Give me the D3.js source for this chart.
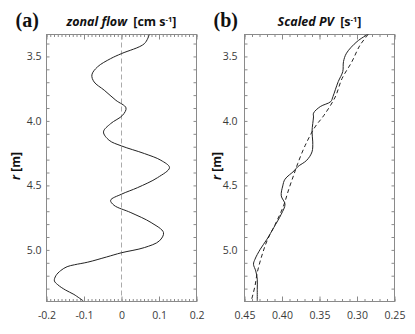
<!DOCTYPE html>
<html><head><meta charset="utf-8">
<script src="https://cdnjs.cloudflare.com/ajax/libs/d3/7.8.5/d3.min.js"></script>
<style>
html,body{margin:0;padding:0;background:#fff;}
svg{display:block;}
</style></head>
<body>
<svg id="chart" width="415" height="334"></svg>
<script>
// ---- data ----
const rFlow = [3.331,3.401,3.478,3.517,3.581,3.643,3.698,3.762,3.84,3.899,3.956,4.021,4.085,4.15,4.194,4.253,4.305,4.362,4.44,4.517,4.568,4.615,4.654,4.711,4.788,4.866,4.93,4.982,5.022,5.055,5.095,5.115,5.13,5.16,5.2,5.24,5.27,5.31,5.345,5.395];
const zonalFlow = [0.074,0.061,0,-0.029,-0.064,-0.079,-0.073,-0.046,-0.015,0.012,0.003,-0.029,-0.048,-0.033,0,0.061,0.105,0.128,0.096,0.043,0,-0.029,-0.02,0.025,0.079,0.112,0.101,0.061,0,-0.04,-0.09,-0.125,-0.145,-0.162,-0.175,-0.179,-0.17,-0.15,-0.127,-0.102];

const rPV = [3.33,3.385,3.475,3.54,3.618,3.695,3.81,3.85,3.889,3.94,3.969,4.021,4.085,4.163,4.24,4.305,4.355,4.388,4.452,4.504,4.581,4.646,4.723,4.827,4.917,4.995,5.072,5.111,5.163,5.227,5.305,5.395];
const scaledPV = [0.286,0.30,0.314,0.318,0.319,0.325,0.332,0.335,0.349,0.358,0.358,0.359,0.36,0.359,0.36,0.367,0.379,0.384,0.396,0.399,0.401,0.396,0.401,0.411,0.42,0.429,0.436,0.438,0.435,0.433,0.433,0.433];

const rPVfit = [3.33,3.413,3.543,3.672,3.814,3.956,4.047,4.189,4.33,4.413,4.53,4.659,4.801,4.93,5.047,5.176,5.279,5.395];
const scaledPVfit = [0.285,0.296,0.307,0.32,0.329,0.344,0.356,0.369,0.379,0.384,0.391,0.398,0.409,0.42,0.427,0.433,0.436,0.441];

const rTicks = [3.5,4.0,4.5,5.0];
const flowTicks = [-0.2,-0.1,0,0.1,0.2];
const pvTicks = [0.45,0.40,0.35,0.30,0.25];
const rDomain = [3.33,5.40];

// ---- layout ----
const svg = d3.select("#chart");
const yTop = 34.5, yBot = 301.5;
const frameCol = "#8a8a8a", labelCol = "#3a3a3a";
const y = d3.scaleLinear().domain(rDomain).range([yTop,yBot]);

function panel(x0, x1, xdom, xMajor, xMinorStep, xFmt, labelGap, letter, titleParts, rLabelX){
  const x = d3.scaleLinear().domain(xdom).range([x0,x1]);
  const g = svg.append("g");
  g.append("rect").attr("x",x0).attr("y",yTop).attr("width",x1-x0).attr("height",yBot-yTop)
    .attr("fill","none").attr("stroke",frameCol).attr("stroke-width",1);
  const yMinor = d3.range(34,54).map(d=>d/10).filter(d=>d>=rDomain[0]&&d<=rDomain[1]);
  g.append("g").attr("transform",`translate(${x0},0)`).call(d3.axisLeft(y).tickValues(yMinor).tickSize(-3).tickFormat(""));
  g.append("g").attr("transform",`translate(${x1},0)`).call(d3.axisRight(y).tickValues(yMinor).tickSize(-3).tickFormat(""));
  g.append("g").attr("transform",`translate(${x0},0)`)
    .call(d3.axisLeft(y).tickValues(rTicks).tickSize(0).tickPadding(labelGap).tickFormat(d3.format(".1f")));
  const lo = Math.min(...xdom), hi = Math.max(...xdom);
  const xMinor = d3.range(Math.round(lo/xMinorStep), Math.round(hi/xMinorStep)+1).map(i=>+(i*xMinorStep).toFixed(4));
  g.append("g").attr("transform",`translate(0,${yBot})`).call(d3.axisBottom(x).tickValues(xMinor).tickSize(-2.5).tickFormat(""));
  g.append("g").attr("transform",`translate(0,${yTop})`).call(d3.axisTop(x).tickValues(xMinor).tickSize(-2.5).tickFormat(""));
  g.append("g").attr("transform",`translate(0,${yBot})`).call(d3.axisBottom(x).tickValues(xMajor).tickSize(-5).tickPadding(10).tickFormat(xFmt));
  g.append("g").attr("transform",`translate(0,${yTop})`).call(d3.axisTop(x).tickValues(xMajor).tickSize(-5).tickFormat(""));
  g.selectAll(".domain").remove();
  g.selectAll(".tick line").attr("stroke",frameCol).attr("stroke-width",1);
  g.selectAll(".tick text").attr("fill",labelCol).style("font-family","'Open Sans',sans-serif").style("font-size","10.5px");
  svg.append("text").attr("x",x0-31).attr("y",27).text(letter)
    .style("font-family","'Liberation Serif','DejaVu Serif',serif").style("font-weight","bold").style("font-size","20px").attr("fill","#111");
  const t = svg.append("text").attr("x",(x0+x1)/2).attr("y",26).attr("text-anchor","middle")
    .style("font-family","'Open Sans',sans-serif").style("font-weight","bold").style("font-size","12.5px").attr("fill","#111");
  titleParts(t);
  const rl = svg.append("text").attr("transform",`translate(${rLabelX},166) rotate(-90)`).attr("text-anchor","middle")
    .style("font-family","'Open Sans',sans-serif").style("font-weight","bold").style("font-size","12px").attr("fill","#111");
  rl.append("tspan").style("font-style","italic").text("r");
  rl.append("tspan").text(" [m]");
  return {g,x};
}

// panel (a)
const A = panel(46.5,196.5,[-0.2,0.2],flowTicks,0.01,d=>d===0?"0":d3.format(".1f")(d).replace("\u2212","-"),5,"(a)",t=>{
  t.append("tspan").style("font-style","italic").text("zonal flow");
  t.append("tspan").text("\u2002[cm s");
  t.append("tspan").attr("dy",-4.5).style("font-size","7.5px").text("-1");
  t.append("tspan").attr("dy",4.5).text("]");
},20);
A.g.append("line").attr("x1",A.x(0)).attr("x2",A.x(0)).attr("y1",yTop).attr("y2",yBot)
  .attr("stroke","#aaa").attr("stroke-width",1).attr("stroke-dasharray","5,3");
const lineA = d3.line().x((d,i)=>A.x(zonalFlow[i])).y(d=>y(d)).curve(d3.curveCatmullRom);
A.g.append("path").attr("d",lineA(rFlow)).attr("fill","none").attr("stroke","#222").attr("stroke-width",1);

// panel (b)
const B = panel(244.5,394.5,[0.45,0.25],pvTicks,0.01,d3.format(".2f"),7,"(b)",t=>{
  t.append("tspan").style("font-style","italic").text("Scaled PV");
  t.append("tspan").text("\u2002[s");
  t.append("tspan").attr("dy",-4.5).style("font-size","7.5px").text("-1");
  t.append("tspan").attr("dy",4.5).text("]");
},221);
const lineB = d3.line().x((d,i)=>B.x(scaledPV[i])).y(d=>y(d)).curve(d3.curveCatmullRom);
B.g.append("path").attr("d",lineB(rPV)).attr("fill","none").attr("stroke","#222").attr("stroke-width",1);
const lineBf = d3.line().x((d,i)=>B.x(scaledPVfit[i])).y(d=>y(d)).curve(d3.curveCatmullRom);
B.g.append("path").attr("d",lineBf(rPVfit)).attr("fill","none").attr("stroke","#222").attr("stroke-width",1).attr("stroke-dasharray","4,3");
</script>
</body></html>
